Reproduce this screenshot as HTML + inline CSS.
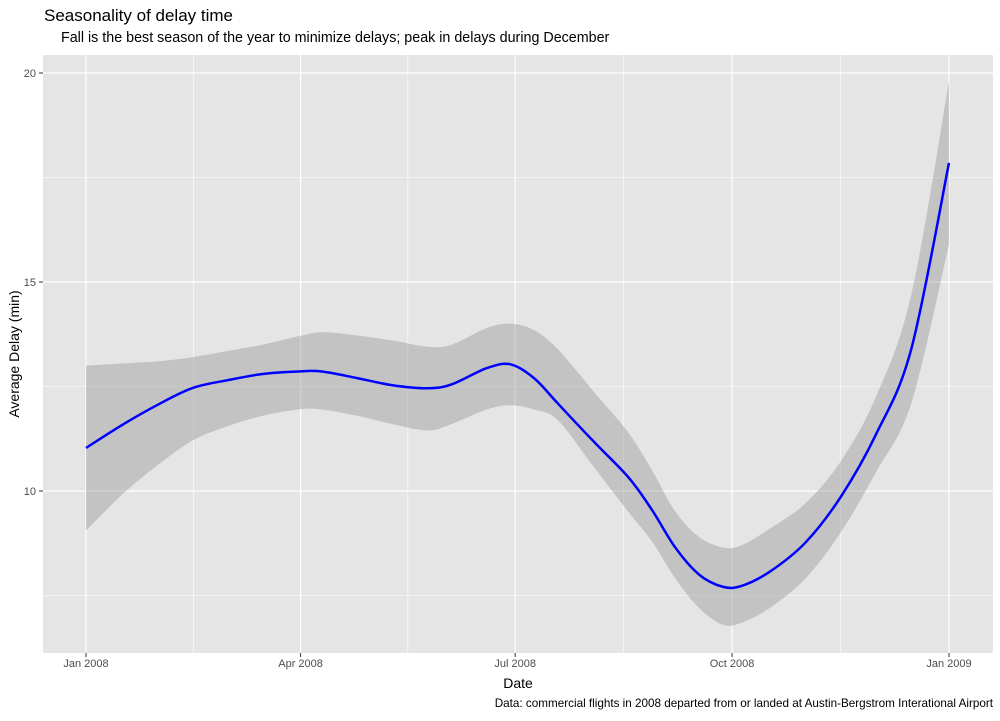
<!DOCTYPE html>
<html><head><meta charset="utf-8"><style>
body{margin:0;background:#fff;font-family:"Liberation Sans",Arial,sans-serif}
</style></head><body>
<svg id="chart" width="1000" height="716" xmlns="http://www.w3.org/2000/svg" font-family="Liberation Sans, Arial, sans-serif">
<text x="44" y="21" font-size="17" fill="#000">Seasonality of delay time</text>
<text x="61" y="42" font-size="14.3" fill="#000">Fall is the best season of the year to minimize delays; peak in delays during December</text>
<rect x="43" y="55" width="950" height="598" fill="#e5e5e5"/>
<g id="grid"></g>
<g id="marks"></g>
<g id="axes"></g>
<text x="518" y="688" font-size="14" text-anchor="middle">Date</text>
<text transform="translate(19,354) rotate(-90)" font-size="14" text-anchor="middle">Average Delay (min)</text>
<text x="993" y="707" font-size="11.7" text-anchor="end">Data: commercial flights in 2008 departed from or landed at Austin-Bergstrom Interational Airport</text>
</svg>
<script>
const days=[0,15,30,45,60,75,90,100,115,130,145,155,170,180,190,200,215,230,240,250,260,270,278,290,305,320,335,350,366];
const fit=[11.03,11.57,12.05,12.46,12.65,12.8,12.86,12.86,12.7,12.53,12.46,12.55,12.94,13.03,12.7,12.1,11.2,10.33,9.55,8.64,8.0,7.71,7.73,8.07,8.76,9.85,11.35,13.4,17.85];
const upper=[13.0,13.05,13.1,13.2,13.35,13.5,13.7,13.8,13.72,13.6,13.45,13.5,13.9,14.0,13.85,13.4,12.4,11.4,10.5,9.5,8.9,8.65,8.7,9.1,9.7,10.7,12.25,14.7,19.8];
const lower=[9.05,9.9,10.6,11.2,11.55,11.8,11.95,11.95,11.8,11.6,11.45,11.6,11.95,12.05,11.95,11.7,10.6,9.5,8.8,7.9,7.2,6.8,6.85,7.2,7.9,9.0,10.45,12.1,15.9];
const yTicks=[10,15,20];
const yMinor=[7.5,12.5,17.5];
const xTickDays=[0,91,182,274,366];
const xTickLabels=["Jan 2008","Apr 2008","Jul 2008","Oct 2008","Jan 2009"];
const xMinorDays=[45.5,136.5,228,320];
const NS="http://www.w3.org/2000/svg";
const xs=d=>86+d*(949-86)/366;
const ys=v=>491-(v-10)*(491-282)/5;
function mk(p,t,a){const e=document.createElementNS(NS,t);for(const k in a)e.setAttribute(k,a[k]);p.appendChild(e);return e;}
function smooth(pts){let s="";for(let i=0;i<pts.length-1;i++){const p0=pts[Math.max(i-1,0)],p1=pts[i],p2=pts[i+1],p3=pts[Math.min(i+2,pts.length-1)];
const c1=[p1[0]+(p2[0]-p0[0])/6,p1[1]+(p2[1]-p0[1])/6],c2=[p2[0]-(p3[0]-p1[0])/6,p2[1]-(p3[1]-p1[1])/6];
s+=` C${c1[0].toFixed(1)},${c1[1].toFixed(1)} ${c2[0].toFixed(1)},${c2[1].toFixed(1)} ${p2[0].toFixed(1)},${p2[1].toFixed(1)}`;}return s;}
const grid=document.getElementById('grid'),marks=document.getElementById('marks'),axes=document.getElementById('axes');
yMinor.forEach(v=>{const l=mk(grid,'line',{x1:43,x2:993,y1:ys(v),y2:ys(v),stroke:'#fff','stroke-width':0.6});

});
xMinorDays.forEach(d=>{const l=mk(grid,'line',{x1:xs(d),x2:xs(d),y1:55,y2:653,stroke:'#fff','stroke-width':0.6});

});
yTicks.forEach(v=>{const l=mk(grid,'line',{x1:43,x2:993,y1:ys(v),y2:ys(v),stroke:'#fff','stroke-width':1.2});


const t=mk(axes,'text',{x:36,y:ys(v)+4,'font-size':11,'text-anchor':'end',fill:'#4d4d4d'});t.textContent=v;


mk(axes,'line',{x1:39,x2:43,y1:ys(v),y2:ys(v),stroke:'#333'});});
xTickDays.forEach((d,i)=>{const l=mk(grid,'line',{x1:xs(d),x2:xs(d),y1:55,y2:653,stroke:'#fff','stroke-width':1.2});


mk(axes,'line',{x1:xs(d),x2:xs(d),y1:653,y2:657,stroke:'#333'});
const t=mk(axes,'text',{x:xs(d),y:667,'font-size':11,'text-anchor':'middle',fill:'#4d4d4d'});t.textContent=xTickLabels[i];

});
const up=days.map((d,i)=>[xs(d),ys(upper[i])]),lo=days.map((d,i)=>[xs(d),ys(lower[i])]).reverse();
const band=mk(marks,'path',{d:`M${up[0][0]},${up[0][1]}`+smooth(up)+` L${lo[0][0]},${lo[0][1]}`+smooth(lo)+'Z',fill:'#999','fill-opacity':0.45});


const fp=days.map((d,i)=>[xs(d),ys(fit[i])]);
const line=mk(marks,'path',{d:`M${fp[0][0]},${fp[0][1]}`+smooth(fp),fill:'none',stroke:'#0000ff','stroke-width':2.5});


</script>
</body></html>
